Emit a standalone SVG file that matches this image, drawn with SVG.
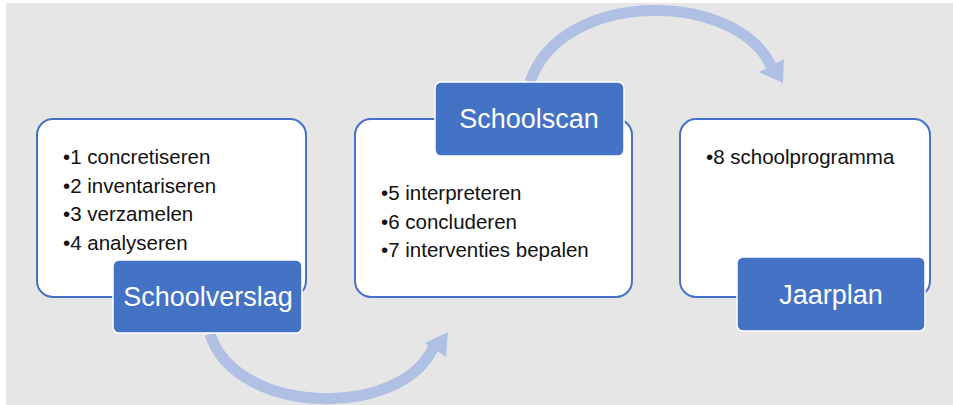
<svg xmlns="http://www.w3.org/2000/svg" width="953" height="405" viewBox="0 0 953 405">
<style>
.card{fill:#ffffff;stroke:#4472c4;stroke-width:2}
.lab{fill:#4472c4;stroke:#ffffff;stroke-width:1.5}
.lt{font-family:"Liberation Sans",Arial,sans-serif;font-size:27px;fill:#ffffff;text-anchor:middle}
.bt{font-family:"Liberation Sans",Arial,sans-serif;font-size:20.5px;fill:#111111}
.arc{fill:none;stroke:#b0c0e4;stroke-width:11}
.head{fill:#b0c0e4}
</style>
<rect x="0" y="0" width="953" height="405" fill="#ffffff"/>
<rect x="6" y="3" width="947" height="402" fill="#e6e6e6"/>
<g id="connectors">
<path class="arc" d="M 210 334 C 236 416, 402 420, 434 346"/>
<polygon class="head" points="448,332 446,357 425,343"/>
<path class="arc" d="M 530 82 C 562 -12, 738 -10, 772 68"/>
<polygon class="head" points="783,83 759,72 784,59"/>
</g>
<g id="node-schoolverslag">
<rect class="card" x="37" y="119" width="269" height="178" rx="16"/>
<text class="bt" x="63" y="164">•1 concretiseren</text>
<text class="bt" x="63" y="192.5">•2 inventariseren</text>
<text class="bt" x="63" y="221">•3 verzamelen</text>
<text class="bt" x="63" y="249.5">•4 analyseren</text>
<rect class="lab" x="113" y="260" width="189" height="73" rx="6"/>
<text class="lt" x="208" y="306">Schoolverslag</text>
</g>
<g id="node-schoolscan">
<rect class="card" x="355" y="119" width="277" height="178" rx="16"/>
<rect class="lab" x="435" y="82" width="189" height="74" rx="6"/>
<text class="lt" x="529" y="128">Schoolscan</text>
<text class="bt" x="381" y="200">•5 interpreteren</text>
<text class="bt" x="381" y="228.5">•6 concluderen</text>
<text class="bt" x="381" y="257">•7 interventies bepalen</text>
</g>
<g id="node-jaarplan">
<rect class="card" x="680" y="119" width="250" height="178" rx="16"/>
<text class="bt" x="706" y="164">•8 schoolprogramma</text>
<rect class="lab" x="737" y="257" width="188" height="74" rx="6"/>
<text class="lt" x="831" y="304">Jaarplan</text>
</g>
</svg>
